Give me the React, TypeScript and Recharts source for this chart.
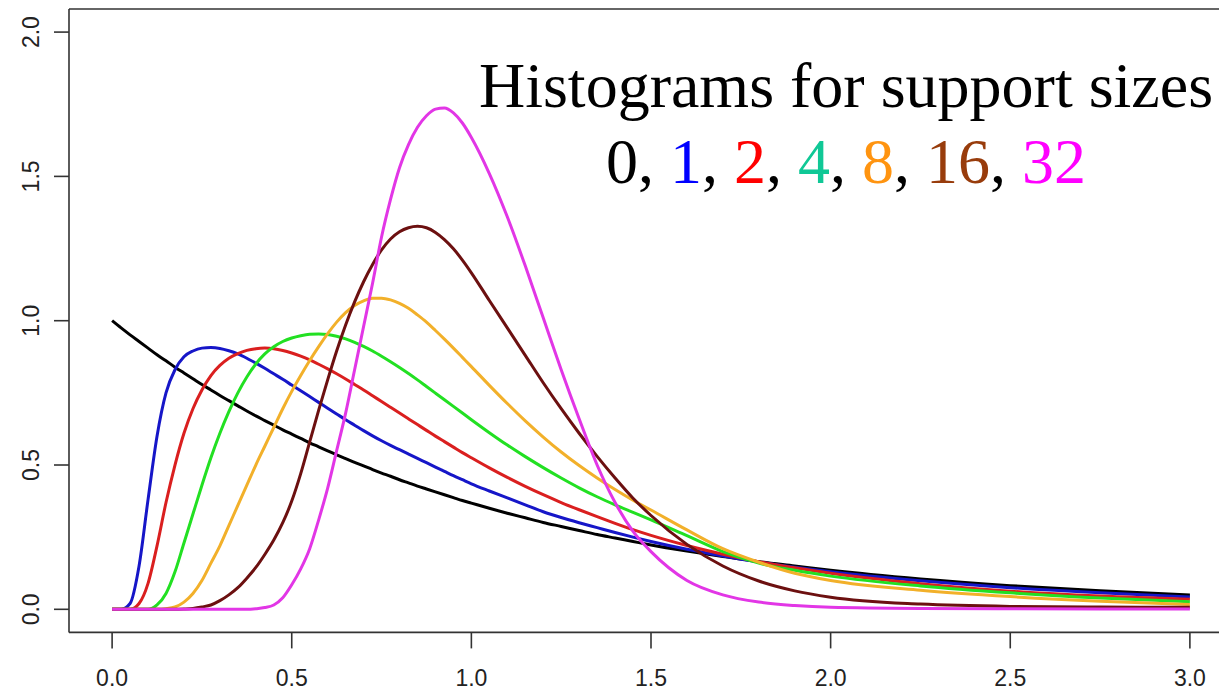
import { Line, LineChart, ReferenceLine, XAxis, YAxis } from "recharts";

// shared x grid (denser where the curves rise and peak)
const X_VALUES = [
  0, 0.025, 0.05, 0.075, 0.1, 0.125, 0.15, 0.175, 0.2, 0.225,
  0.25, 0.275, 0.3, 0.325, 0.35, 0.375, 0.4, 0.425, 0.45, 0.475,
  0.5, 0.525, 0.55, 0.575, 0.6, 0.625, 0.65, 0.675, 0.7, 0.725,
  0.75, 0.775, 0.8, 0.825, 0.85, 0.875, 0.9, 0.925, 0.95, 0.975,
  1.0, 1.05, 1.1, 1.15, 1.2, 1.25, 1.3, 1.35, 1.4, 1.45,
  1.5, 1.6, 1.7, 1.8, 1.9, 2.0, 2.25, 2.5, 2.75, 3.0,
];

const SIZE_0 = [
  1.0, 0.975, 0.951, 0.928, 0.905, 0.882, 0.861, 0.839, 0.819, 0.799,
  0.779, 0.76, 0.741, 0.723, 0.705, 0.687, 0.67, 0.654, 0.638, 0.622,
  0.607, 0.592, 0.577, 0.563, 0.549, 0.535, 0.522, 0.509, 0.497, 0.484,
  0.472, 0.461, 0.449, 0.438, 0.427, 0.417, 0.407, 0.397, 0.387, 0.377,
  0.368, 0.35, 0.333, 0.317, 0.301, 0.287, 0.273, 0.259, 0.247, 0.235,
  0.223, 0.202, 0.183, 0.165, 0.15, 0.135, 0.105, 0.082, 0.064, 0.05,
];

const SIZE_1 = [
  0, 0, 0.02, 0.15, 0.38, 0.6, 0.75, 0.83, 0.875, 0.895,
  0.905, 0.907, 0.904, 0.896, 0.885, 0.87, 0.853, 0.835, 0.816, 0.797,
  0.777, 0.757, 0.737, 0.717, 0.697, 0.677, 0.657, 0.638, 0.619, 0.601,
  0.584, 0.568, 0.553, 0.538, 0.523, 0.508, 0.493, 0.478, 0.463, 0.449,
  0.435, 0.41, 0.386, 0.362, 0.338, 0.318, 0.3, 0.283, 0.266, 0.25,
  0.235, 0.208, 0.185, 0.164, 0.146, 0.13, 0.099, 0.075, 0.057, 0.043,
];

const SIZE_2 = [
  0, 0, 0, 0.02, 0.09, 0.22, 0.37, 0.5, 0.61, 0.695,
  0.76, 0.81, 0.845, 0.87, 0.886, 0.897, 0.903, 0.905, 0.903, 0.897,
  0.888, 0.877, 0.864, 0.849, 0.833, 0.816, 0.798, 0.779, 0.76, 0.74,
  0.72, 0.7, 0.68, 0.66, 0.64, 0.62, 0.6, 0.581, 0.562, 0.543,
  0.525, 0.49, 0.457, 0.426, 0.397, 0.37, 0.345, 0.321, 0.298, 0.276,
  0.256, 0.221, 0.191, 0.165, 0.144, 0.125, 0.089, 0.063, 0.046, 0.035,
];

const SIZE_4 = [
  0, 0, 0, 0, 0, 0.015, 0.055, 0.13, 0.23, 0.33,
  0.43, 0.525, 0.61, 0.685, 0.75, 0.805, 0.85, 0.885, 0.91, 0.928,
  0.94, 0.948, 0.953, 0.954, 0.952, 0.946, 0.937, 0.925, 0.911, 0.895,
  0.877, 0.858, 0.838, 0.817, 0.795, 0.772, 0.749, 0.726, 0.703, 0.68,
  0.657, 0.612, 0.569, 0.529, 0.491, 0.455, 0.421, 0.39, 0.362, 0.336,
  0.31, 0.255, 0.2, 0.16, 0.135, 0.115, 0.081, 0.057, 0.039, 0.026,
];

const SIZE_8 = [
  0, 0, 0, 0, 0, 0, 0.002, 0.008, 0.025, 0.055,
  0.1, 0.16, 0.22, 0.29, 0.36, 0.43, 0.5, 0.565, 0.63, 0.695,
  0.755, 0.81, 0.862, 0.91, 0.955, 0.995, 1.028, 1.053, 1.069, 1.078,
  1.078, 1.072, 1.06, 1.043, 1.02, 0.995, 0.966, 0.936, 0.905, 0.873,
  0.841, 0.776, 0.713, 0.653, 0.597, 0.545, 0.498, 0.455, 0.415, 0.378,
  0.344, 0.275, 0.21, 0.163, 0.125, 0.1, 0.066, 0.044, 0.028, 0.017,
];

const SIZE_16 = [
  0, 0, 0, 0, 0, 0, 0, 0, 0.001, 0.003,
  0.008, 0.015, 0.03, 0.05, 0.075, 0.108, 0.145, 0.19, 0.24, 0.3,
  0.375, 0.47, 0.58, 0.69, 0.795, 0.895, 0.985, 1.065, 1.135, 1.195,
  1.245, 1.283, 1.308, 1.322, 1.327, 1.322, 1.306, 1.281, 1.249, 1.21,
  1.166, 1.07, 0.975, 0.88, 0.785, 0.695, 0.61, 0.53, 0.455, 0.385,
  0.325, 0.225, 0.15, 0.098, 0.064, 0.042, 0.018, 0.01, 0.008, 0.007,
];

const SIZE_32 = [
  0, 0, 0, 0, 0, 0, 0, 0, 0, 0,
  0, 0, 0, 0, 0, 0, 0.002, 0.006, 0.015, 0.04,
  0.085, 0.14, 0.21, 0.31, 0.42, 0.55, 0.68, 0.83, 0.98, 1.13,
  1.29, 1.42, 1.53, 1.61, 1.67, 1.71, 1.733, 1.737, 1.72, 1.685,
  1.635, 1.51, 1.36, 1.19, 1.01, 0.83, 0.66, 0.5, 0.37, 0.27,
  0.2, 0.1, 0.05, 0.025, 0.013, 0.007, 0.003, 0.002, 0.001, 0.001,
];

const X_TICKS = [0, 0.5, 1, 1.5, 2, 2.5, 3];
const Y_TICKS = [0, 0.5, 1, 1.5, 2];
// R-style axes: 4% padding on each side of the data range
const X_DOMAIN: [number, number] = [-0.12, 3.12];
const Y_DOMAIN: [number, number] = [-0.08, 2.08];

const SERIES = [
  { key: "s0", label: "0", values: SIZE_0, line: "#000000", text: "#000000" },
  { key: "s1", label: "1", values: SIZE_1, line: "#1616c8", text: "#0000ff" },
  { key: "s2", label: "2", values: SIZE_2, line: "#da1f1f", text: "#ff0000" },
  { key: "s4", label: "4", values: SIZE_4, line: "#22e022", text: "#10c896" },
  { key: "s8", label: "8", values: SIZE_8, line: "#f2b02a", text: "#ff9410" },
  { key: "s16", label: "16", values: SIZE_16, line: "#6c1010", text: "#983c0c" },
  { key: "s32", label: "32", values: SIZE_32, line: "#e236e6", text: "#ff00ff" },
];

const data = X_VALUES.map((x, i) => {
  const row: Record<string, number> = { x };
  SERIES.forEach((s) => {
    row[s.key] = s.values[i];
  });
  return row;
});

const AXIS = "#333333";
const TICK_FONT = "'Liberation Sans', Arial, sans-serif";

function XTick(props: any) {
  const { x, payload } = props;
  return (
    <text
      x={x}
      y={678}
      textAnchor="middle"
      dominantBaseline="central"
      fontFamily={TICK_FONT}
      fontSize={23}
      fill="#222"
    >
      {Number(payload.value).toFixed(1)}
    </text>
  );
}

function YTick(props: any) {
  const { y, payload } = props;
  return (
    <text
      x={31}
      y={y}
      transform={`rotate(-90, 31, ${y})`}
      textAnchor="middle"
      dominantBaseline="central"
      fontFamily={TICK_FONT}
      fontSize={23}
      fill="#222"
    >
      {Number(payload.value).toFixed(1)}
    </text>
  );
}

export default function App() {
  return (
    <div
      style={{
        position: "absolute",
        left: 0,
        top: 0,
        width: 1219,
        height: 694,
        overflow: "hidden",
        background: "#ffffff",
      }}
    >
      <LineChart
        width={1233}
        height={694}
        data={data}
        margin={{ top: 9, right: 0, bottom: 0, left: 0 }}
      >
        <XAxis
          type="number"
          dataKey="x"
          domain={X_DOMAIN}
          ticks={X_TICKS}
          allowDataOverflow
          height={61.6}
          tickSize={16}
          axisLine={{ stroke: AXIS, strokeWidth: 1.6 }}
          tickLine={{ stroke: AXIS, strokeWidth: 1.6 }}
          tick={<XTick />}
          interval={0}
        />
        <YAxis
          type="number"
          domain={Y_DOMAIN}
          ticks={Y_TICKS}
          allowDataOverflow
          width={69}
          tickSize={15}
          axisLine={{ stroke: AXIS, strokeWidth: 1.6 }}
          tickLine={{ stroke: AXIS, strokeWidth: 1.6 }}
          tick={<YTick />}
          interval={0}
        />
        <ReferenceLine y={Y_DOMAIN[1]} stroke={AXIS} strokeWidth={1.6} ifOverflow="visible" />
        {SERIES.map((s) => (
          <Line
            key={s.key}
            type="monotone"
            dataKey={s.key}
            stroke={s.line}
            strokeWidth={3}
            dot={false}
            activeDot={false}
            isAnimationActive={false}
          />
        ))}
      </LineChart>
      <svg
        width={1219}
        height={694}
        style={{ position: "absolute", left: 0, top: 0, pointerEvents: "none" }}
      >
        <text
          x={846}
          y={107}
          textAnchor="middle"
          fontFamily="'Liberation Serif', 'Times New Roman', serif"
          fontSize={64}
          fill="#000"
        >
          Histograms for support sizes
        </text>
        <text
          x={846}
          y={183}
          textAnchor="middle"
          fontFamily="'Liberation Serif', 'Times New Roman', serif"
          fontSize={64}
        >
          {SERIES.map((s, i) => (
            <tspan key={s.key}>
              <tspan fill={s.text}>{s.label}</tspan>
              {i < SERIES.length - 1 && <tspan fill="#000">, </tspan>}
            </tspan>
          ))}
        </text>
      </svg>
    </div>
  );
}
